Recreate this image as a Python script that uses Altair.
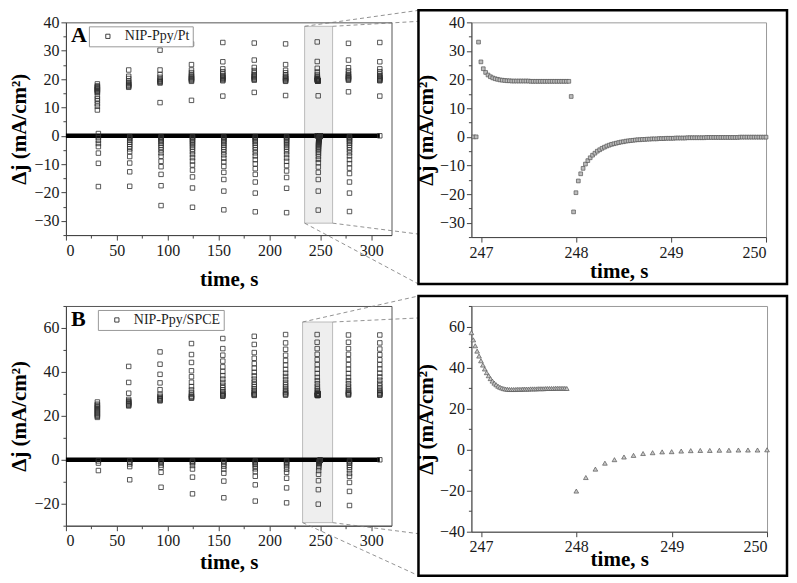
import altair as alt
import pandas as pd

FONT = "Liberation Serif"

# ---------------- data ----------------
PULSE_T = [30.9, 61.7, 92.5, 123.4, 154.2, 185.1, 215.9, 246.97, 277.7, 308.5]

# Panel A (NIP-Ppy/Pt): current during each pulse (on) and just after it (off)
A_ON_J = [
    [18.3, 17.6, 17.3, 17.0, 16.7, 16.4, 16.1, 15.8, 15.5, 15.2, 14.0, 13.1, 12.3, 11.3, 10.4, 9.1],
    [23.2, 21.0, 20.2, 19.3, 18.8, 18.4, 18.0, 17.7, 17.4, 17.1],
    [30.2, 23.2, 21.6, 20.6, 19.9, 19.5, 19.2, 18.9, 18.6, 11.7],
    [32.4, 25.1, 23.2, 22.3, 21.6, 21.1, 20.7, 20.4, 20.1, 19.8, 19.5, 19.2, 12.5],
    [32.9, 26.1, 23.6, 22.6, 21.9, 21.3, 20.9, 20.6, 20.3, 20.0, 19.7, 19.4, 14.0],
    [32.7, 26.7, 24.1, 23.0, 22.2, 21.6, 21.2, 20.9, 20.6, 20.2, 19.9, 19.6, 15.3],
    [32.4, 25.1, 23.1, 22.2, 21.5, 21.0, 20.6, 20.3, 20.0, 19.7, 19.4, 19.2, 14.2],
    [],
    [32.6, 26.7, 24.0, 22.9, 22.1, 21.5, 21.1, 20.8, 20.5, 20.2, 19.9, 19.6, 15.5],
    [32.9, 26.1, 23.6, 22.6, 21.8, 21.2, 20.8, 20.5, 20.2, 19.9, 19.6, 19.4, 14.0],
]
A_OFF_J = [
    [0.8, -0.6, -1.6, -2.7, -3.8, -6.1, -9.7, -17.9],
    [-0.3, -0.6, -1.0, -1.6, -2.3, -3.0, -3.8, -4.6, -5.6, -7.3, -9.6, -12.7, -17.8],
    [-0.3, -0.6, -1.0, -1.5, -2.0, -2.6, -3.3, -4.1, -5.0, -6.0, -7.2, -9.0, -10.9, -13.6, -17.6, -24.6],
    [-0.3, -0.6, -1.0, -1.5, -2.0, -2.6, -3.2, -3.9, -4.7, -5.6, -6.6, -7.7, -8.9, -10.3, -12.1, -14.5, -18.4, -25.2],
    [-0.3, -0.6, -1.0, -1.5, -2.0, -2.6, -3.3, -4.0, -4.8, -5.7, -6.7, -7.9, -9.2, -10.8, -12.9, -15.4, -19.5, -26.1],
    [-0.3, -0.6, -1.0, -1.5, -2.0, -2.6, -3.3, -4.1, -5.0, -6.0, -7.1, -8.4, -9.9, -11.6, -13.6, -16.3, -20.2, -26.8],
    [-0.3, -0.6, -1.0, -1.5, -2.0, -2.6, -3.2, -3.9, -4.7, -5.6, -6.6, -7.8, -9.0, -10.5, -12.4, -14.7, -18.5, -27.1],
    [],
    [-0.3, -0.6, -1.0, -1.5, -2.0, -2.6, -3.3, -4.1, -5.0, -6.0, -7.1, -8.4, -9.8, -11.4, -13.3, -16.3, -20.2, -26.7],
    [],
]

# Panel B (NIP-Ppy/SPCE)
B_ON_J = [
    [26.3, 25.3, 24.8, 24.3, 23.8, 23.3, 22.8, 22.3, 21.8, 21.3, 20.8, 20.3, 19.8, 19.3],
    [42.5, 35.2, 30.3, 27.5, 26.8, 26.4, 26.0, 25.6, 25.2, 24.8, 24.5],
    [49.1, 43.5, 38.9, 35.0, 31.9, 29.8, 28.9, 28.3, 27.9, 27.5, 27.1, 26.8],
    [52.9, 47.9, 44.3, 40.5, 37.8, 35.3, 33.3, 31.8, 30.6, 29.7, 29.0, 28.6, 28.3, 28.0],
    [55.2, 50.6, 47.6, 44.9, 42.3, 40.2, 38.3, 36.7, 35.2, 33.9, 32.8, 31.8, 31.0, 30.3, 29.8, 29.4, 29.1, 28.9],
    [56.2, 52.5, 48.8, 46.2, 43.8, 41.7, 39.8, 38.2, 36.7, 35.4, 34.2, 33.2, 32.3, 31.5, 30.8, 30.2, 29.8, 29.5, 29.3],
    [57.0, 53.2, 50.3, 47.6, 45.2, 43.1, 41.1, 39.4, 37.9, 36.5, 35.2, 34.1, 33.1, 32.2, 31.4, 30.7, 30.1, 29.7, 29.4],
    [],
    [56.8, 53.5, 50.6, 48.0, 45.6, 43.3, 41.2, 39.3, 37.5, 36.0, 34.6, 33.4, 32.4, 31.6, 30.9, 30.4, 30.0, 29.7, 29.5],
    [56.8, 53.2, 50.4, 47.8, 45.5, 43.3, 41.3, 39.4, 37.7, 36.2, 34.8, 33.6, 32.5, 31.6, 30.9, 30.3, 29.9, 29.6, 29.4],
]
B_OFF_J = [
    [-0.5, -1.5, -4.9],
    [-0.5, -1.2, -1.9, -3.1, -9.1],
    [-0.5, -1.0, -1.4, -2.4, -3.4, -5.7, -12.5],
    [-0.5, -1.0, -1.4, -2.6, -4.2, -7.9, -15.5],
    [-0.5, -1.0, -1.9, -2.9, -4.2, -6.1, -9.7, -17.3],
    [-0.5, -1.0, -1.5, -2.2, -3.0, -4.1, -5.4, -7.5, -11.4, -18.8],
    [-0.5, -1.0, -1.6, -2.3, -3.2, -4.3, -5.7, -8.4, -12.8, -19.6],
    [],
    [-0.5, -1.0, -1.6, -2.5, -3.4, -4.6, -6.2, -7.5, -10.3, -14.4, -20.8],
    [],
]

# dense baseline (Δj = 0) between pulses, and the final point
BASE_T = [0.0, 308.5]
BASE_J = [0.0, 0.0]

# Zoomed pulse at ~247 s, panel A (squares)
ZA_PRE_T = [246.925, 246.95]
ZA_PRE_J = [0.0, 0.0]
ZA_ON_START, ZA_DT = 246.975, 0.025
ZA_ON_J = [33.1, 26.2, 23.8, 22.5, 21.6, 21.0, 20.6, 20.3, 20.1, 19.9,
           19.8, 19.7, 19.6, 19.6, 19.5, 19.5, 19.5, 19.5, 19.5, 19.5,
           19.5, 19.5, 19.4, 19.4, 19.4, 19.4, 19.4, 19.4, 19.4, 19.4,
           19.4, 19.4, 19.4, 19.4, 19.4, 19.4, 19.4, 19.4, 19.4, 14.1]
ZA_OFF_START = 247.975
ZA_OFF_J = [-26.2, -19.5, -15.4, -12.9, -11.0, -9.5, -8.3, -7.3, -6.4, -5.7,
            -5.0, -4.5, -4.0, -3.6, -3.2, -2.9, -2.6, -2.4, -2.2, -2.0,
            -1.8, -1.7, -1.5, -1.4, -1.3, -1.2, -1.1, -1.0, -1.0, -0.9,
            -0.9, -0.8, -0.8, -0.7, -0.7, -0.7, -0.6, -0.6, -0.6, -0.5,
            -0.5, -0.5, -0.5, -0.4, -0.4, -0.4, -0.4, -0.4, -0.3, -0.3,
            -0.3, -0.3, -0.3, -0.3, -0.3, -0.3, -0.2, -0.2, -0.2, -0.2,
            -0.2, -0.2, -0.2, -0.2, -0.2, -0.2, -0.2, -0.2, -0.2, -0.2,
            -0.1, -0.1, -0.1, -0.1, -0.1, -0.1, -0.1, -0.1, -0.1, -0.1,
            -0.1, -0.1]

# Zoomed pulse, panel B (triangles)
ZB_ON_START, ZB_ON_DT = 246.9, 0.02
ZB_ON_J = [57.0, 53.5, 50.6, 48.0, 45.6, 43.3, 41.2, 39.3, 37.5, 36.0,
           34.6, 33.4, 32.4, 31.6, 30.9, 30.4, 30.0, 29.7, 29.5, 29.4,
           29.3, 29.3, 29.3, 29.3, 29.4, 29.4, 29.4, 29.5, 29.5, 29.5,
           29.5, 29.6, 29.6, 29.6, 29.6, 29.7, 29.7, 29.7, 29.7, 29.8,
           29.8, 29.8, 29.8, 29.8, 29.9, 29.9, 29.9, 29.9, 29.9, 29.9,
           29.8]
ZB_OFF_START, ZB_OFF_DT = 248.0, 0.1
ZB_OFF_J = [-20.2, -13.6, -9.5, -6.6, -4.9, -3.6, -2.8, -1.9, -1.5, -1.1,
            -1.0, -0.7, -0.5, -0.4, -0.4, -0.3, -0.3, -0.2, -0.2, -0.2, -0.1]

# zoom windows shown on the overview panels: [t0, t1, j0, j1]
WIN_A = [234.6, 262.1, -30.8, 38.6]
WIN_B = [232.6, 262.1, -28.6, 62.7]

YTITLE = "Δj (mA/cm²)"
XTITLE = "time, s"

# ---------------- helpers ----------------
def pulse_rows(on_j, off_j):
    rows = []
    for t, on, off in zip(PULSE_T, on_j, off_j):
        rows += [{"t": t, "j": v} for v in on]
        rows += [{"t": round(t + 1.0, 3), "j": v} for v in off]
    return rows


def sampled(start, dt, values):
    return [{"t": round(start + i * dt, 4), "j": v} for i, v in enumerate(values)]


def axis(values, major, title, tpad, fmt):
    return alt.Axis(
        values=values, format=fmt,
        labelExpr=f"({major}) ? datum.label : ''",
        tickSize={"condition": {"test": f"!({major})", "value": 3}, "value": 5},
        title=title, titlePadding=tpad, grid=False,
        labelFont=FONT, labelFontSize=16, labelColor="#1a1a1a", labelPadding=2,
        titleFont=FONT, titleFontSize=21, titleFontWeight="bold", titleColor="black",
        domainColor="#444444", tickColor="#444444", domainWidth=1, tickWidth=1,
    )


ZA_ROWS = ([{"t": t, "j": j} for t, j in zip(ZA_PRE_T, ZA_PRE_J)]
           + sampled(ZA_ON_START, ZA_DT, ZA_ON_J) + sampled(ZA_OFF_START, ZA_DT, ZA_OFF_J))
ZB_ROWS = sampled(ZB_ON_START, ZB_ON_DT, ZB_ON_J) + sampled(ZB_OFF_START, ZB_OFF_DT, ZB_OFF_J)

LW = 326          # overview plot width
XDOM_L = [0, 320]
GAP = 80          # column spacing
ZW_OFF = 53       # frame extends this far left of the zoom plot


def left_panel(rows, name, ydom, H, yvals, ymajor, win, conn_px, label, leg_x, xpad):
    xs = alt.Scale(domain=XDOM_L, nice=False, zero=False)
    ys = alt.Scale(domain=ydom, nice=False, zero=False)
    xa = axis(list(range(0, 301, 25)), "datum.value % 50 === 0", XTITLE, xpad, "d")
    ya = axis(yvals, ymajor, YTITLE, 4, "d")
    X = alt.X("t:Q", scale=xs, axis=xa)
    Y = alt.Y("j:Q", scale=ys, axis=ya)

    df = pd.DataFrame(rows + [{"t": BASE_T[-1], "j": BASE_J[-1]}])
    df["series"] = name

    win_df = pd.DataFrame([{"t": win[0], "t2": win[1], "j": win[2], "j2": win[3]}])
    win_l = alt.Chart(win_df).mark_rect(fill="#eeeeee", stroke="#bbbbbb", strokeWidth=1).encode(
        x=X, x2="t2:Q", y=Y, y2="j2:Q")

    base_l = alt.Chart(pd.DataFrame({"t": BASE_T, "j": BASE_J})).mark_line(
        color="black", strokeWidth=4.5).encode(x=X, y=Y)

    pts = alt.Chart(df).mark_point(shape="square", filled=False, size=20, strokeWidth=0.8,
                                   opacity=1).encode(
        x=X, y=Y,
        color=alt.Color("series:N", scale=alt.Scale(range=["#2e2e2e"]),
                        legend=alt.Legend(orient="none", legendX=leg_x, legendY=4, title=None,
                                          fillColor="white", strokeColor="#999999", padding=3,
                                          symbolType="square", symbolSize=18,
                                          symbolStrokeWidth=0.9, symbolOffset=9,
                                          labelFont=FONT, labelFontSize=14, labelColor="#222222",
                                          labelOffset=10)))

    # dashed connectors from the window corners to the zoom frame
    def px2t(px):
        return XDOM_L[0] + px * (XDOM_L[1] - XDOM_L[0]) / LW

    def py2j(py):
        return ydom[1] - py * (ydom[1] - ydom[0]) / H

    ex = px2t(LW + GAP - ZW_OFF)
    corners = [(win[0], win[3]), (win[1], win[3]), (win[0], win[2]), (win[1], win[2])]
    conn_df = pd.DataFrame([{"t": c[0], "j": c[1], "t2": ex, "j2": py2j(p)}
                            for c, p in zip(corners, conn_px)])
    conn = alt.Chart(conn_df).mark_rule(color="#777777", strokeWidth=0.8, strokeDash=[4, 3],
                                        clip=False).encode(x=X, y=Y, x2="t2:Q", y2="j2:Q")

    lab = alt.Chart(alt.Data(values=[{}])).mark_text(
        text=label, font=FONT, fontSize=22, fontWeight="bold", align="left",
        baseline="middle", color="black").encode(x=alt.value(5), y=alt.value(13))

    return alt.layer(win_l, base_l, pts, conn, lab).properties(
        width=LW, height=H, view=alt.ViewBackground(stroke="#555555", strokeWidth=1))


def right_panel(rows, shape, fill, size, ydom, W, H, yvals, ymajor, frame_px, xpad):
    xs = alt.Scale(domain=[246.9, 250], nice=False, zero=False)
    ys = alt.Scale(domain=ydom, nice=False, zero=False)
    xa = axis([247, 247.5, 248, 248.5, 249, 249.5, 250], "datum.value % 1 === 0", XTITLE, xpad, "d")
    ya = axis(yvals, ymajor, YTITLE, 3, "d")
    frame = alt.Chart(alt.Data(values=[{}])).mark_rect(
        fill="white", fillOpacity=0, stroke="black", strokeWidth=2.5, clip=False).encode(
        x=alt.value(-ZW_OFF), x2=alt.value(W + frame_px[2]),
        y=alt.value(frame_px[0]), y2=alt.value(frame_px[1]))
    pts = alt.Chart(pd.DataFrame(rows)).mark_point(
        shape=shape, filled=True, fill=fill, stroke="#555555", strokeWidth=0.7, size=size,
        opacity=1).encode(
        x=alt.X("t:Q", scale=xs, axis=xa), y=alt.Y("j:Q", scale=ys, axis=ya))
    return alt.layer(frame, pts).properties(
        width=W, height=H, view=alt.ViewBackground(stroke="#9a9a9a", strokeWidth=1))


tl = left_panel(pulse_rows(A_ON_J, A_OFF_J) + ZA_ROWS, "NIP-Ppy/Pt", [-35, 40], 213,
                list(range(-35, 41, 5)), "datum.value % 10 === 0", WIN_A,
                [-12, -1, 262, 212], "A", 23, 10)
tr = right_panel(ZA_ROWS, "square", "#bdbdbd", 14, [-35, 40], 295, 215,
                 list(range(-35, 41, 5)), "datum.value % 10 === 0", [-12, 262, 21], 0)
bl = left_panel(pulse_rows(B_ON_J, B_OFF_J) + ZB_ROWS, "NIP-Ppy/SPCE", [-30, 70], 220,
                list(range(-30, 71, 10)), "datum.value % 20 === 0", WIN_B,
                [-10, 12, 270, 228], "B", 32, 3)
br = right_panel(ZB_ROWS, "triangle-up", "#c8c8c8", 22, [-40, 70], 296, 226,
                 list(range(-40, 71, 10)), "datum.value % 20 === 0", [-10, 270, 20], -6)

chart = alt.concat(
    tl, tr, bl, br, columns=2, spacing={"row": 69, "column": GAP}, bounds="flush", align="each"
).resolve_scale(color="independent").properties(
    padding={"left": 0, "top": 0, "right": 0, "bottom": 0}, background="white"
).configure_axis(
    labelFont=FONT, titleFont=FONT, grid=False,
)

chart.save("out.html", embed_options={"renderer": "svg", "actions": False})
